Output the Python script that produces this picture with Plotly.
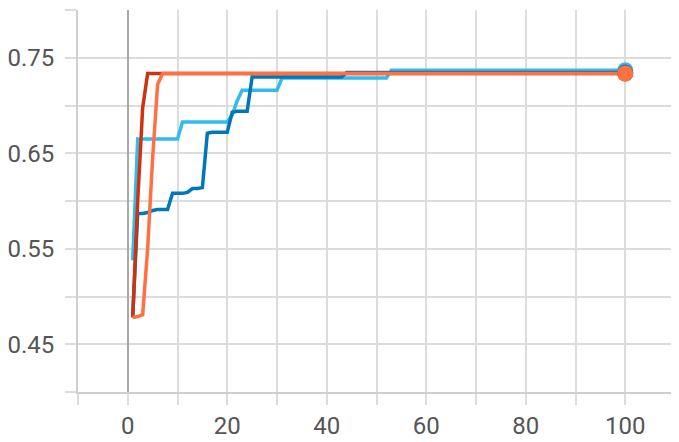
import plotly.graph_objects as go

# ---- data ----
steps_dark_blue = list(range(1, 101))
dark_blue_vals = ([0.480, 0.587, 0.587, 0.588, 0.590, 0.591, 0.591, 0.591,
                   0.608, 0.608, 0.608, 0.609, 0.613, 0.613, 0.614,
                   0.671, 0.672, 0.672, 0.672, 0.672,
                   0.693, 0.694, 0.694, 0.694]
                  + [0.7298] * 19 + [0.7345] * 57)

steps_light_blue = list(range(1, 101))
light_blue_vals = ([0.538] + [0.665] * 9 + [0.6827] * 10
                   + [0.690, 0.705] + [0.716] * 8
                   + [0.7288] * 22 + [0.737] * 48)

steps_red = list(range(1, 101))
red_vals = [0.478, 0.600, 0.698] + [0.7335] * 97

steps_orange = list(range(1, 101))
orange_vals = [0.478, 0.479, 0.481, 0.550, 0.645, 0.722] + [0.7335] * 94

y_tick_vals = [0.40, 0.45, 0.50, 0.55, 0.60, 0.65, 0.70, 0.75, 0.80]
y_tick_text = ["", "0.45", "", "0.55", "", "0.65", "", "0.75", ""]
x_tick_vals = [-10, 0, 10, 20, 30, 40, 50, 60, 70, 80, 90, 100, 110]
x_tick_text = ["", "0", "", "20", "", "40", "", "60", "", "80", "", "100", ""]

series = [
    (steps_light_blue, light_blue_vals, "#33bbee"),
    (steps_dark_blue, dark_blue_vals, "#0077bb"),
    (steps_red, red_vals, "#cc3311"),
    (steps_orange, orange_vals, "#ff7043"),
]

fig = go.Figure()
for xs, ys, col in series:
    fig.add_trace(go.Scatter(x=xs, y=ys, mode="lines",
                             line=dict(color=col, width=3.5),
                             hoverinfo="skip", showlegend=False))
for xs, ys, col in series:
    fig.add_trace(go.Scatter(x=[xs[-1]], y=[ys[-1]], mode="markers",
                             marker=dict(color=col, size=16),
                             hoverinfo="skip", showlegend=False))

grid = "#dcdcdc"
font = dict(family="Roboto, Arial, sans-serif", size=24, color="#555555")

# the page body adds an 8px offset, so the figure is sized to fit inside it
fig.update_layout(
    width=671, height=434,
    margin=dict(l=70, r=4, t=2, b=50, autoexpand=False),
    paper_bgcolor="white", plot_bgcolor="white",
    font=font,
)
fig.update_xaxes(
    range=[-10, 110], tickvals=x_tick_vals, ticktext=x_tick_text,
    showgrid=True, gridcolor=grid, gridwidth=1.5,
    ticks="outside", ticklen=11, tickcolor=grid, tickwidth=1.5,
    showline=True, linecolor="#cfcfcf", linewidth=1.5,
    zeroline=True, zerolinecolor="#a8a8a8", zerolinewidth=2,
    tickfont=font, ticklabelstandoff=0, automargin=False,
)
fig.update_yaxes(
    range=[0.40, 0.80], tickvals=y_tick_vals, ticktext=y_tick_text,
    showgrid=True, gridcolor=grid, gridwidth=1.5,
    ticks="outside", ticklen=11, tickcolor=grid, tickwidth=1.5,
    showline=True, linecolor="#cfcfcf", linewidth=2,
    zeroline=False,
    tickfont=font, ticklabelstandoff=6, automargin=False,
)

fig.write_html("out.html")
